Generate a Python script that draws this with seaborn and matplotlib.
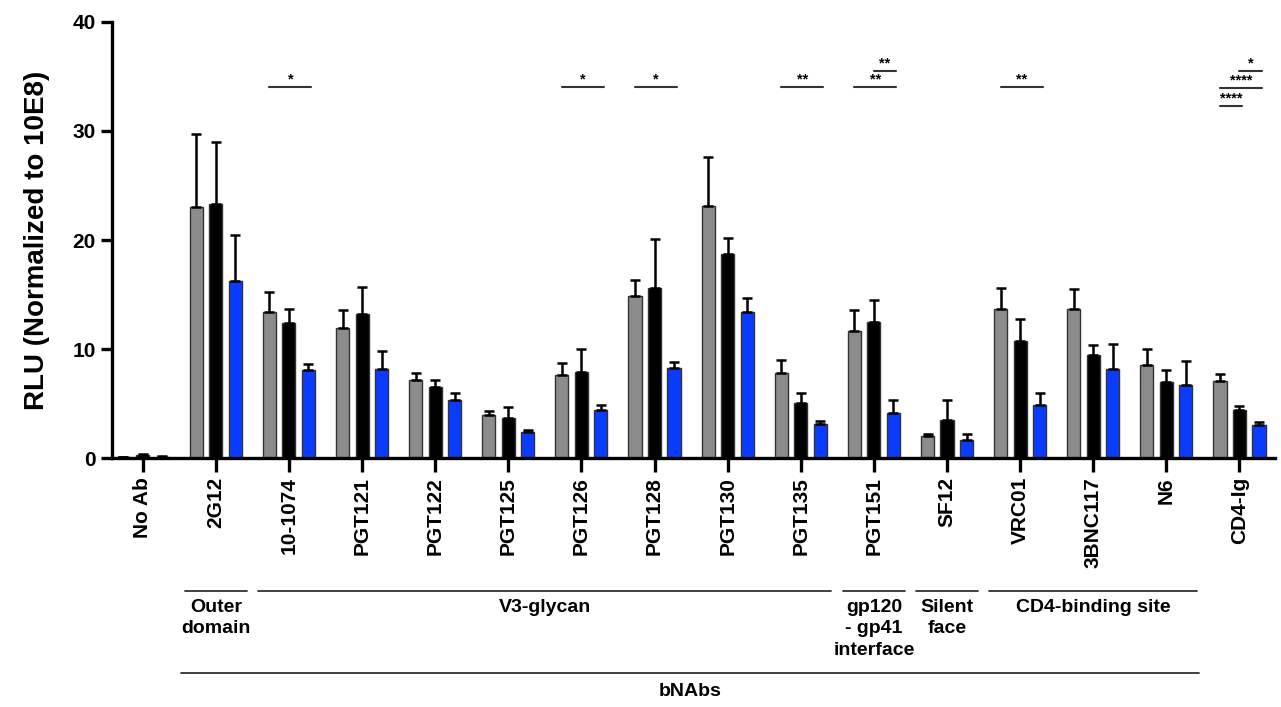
import numpy as np
import pandas as pd
import seaborn as sns
import matplotlib.pyplot as plt

antibodies = ["No Ab", "2G12", "10-1074", "PGT121", "PGT122", "PGT125", "PGT126",
              "PGT128", "PGT130", "PGT135", "PGT151", "SF12", "VRC01", "3BNC117",
              "N6", "CD4-Ig"]
conditions = ["cond1", "cond2", "cond3"]
colors = ["#8c8c8c", "#000000", "#0a3cff"]

gray_mean = [0.15, 23.0, 13.4, 11.9, 7.2, 4.0, 7.6, 14.9, 23.1, 7.8, 11.7, 2.0, 13.7, 13.7, 8.5, 7.1]
gray_top = [0.15, 29.7, 15.2, 13.6, 7.8, 4.3, 8.7, 16.3, 27.6, 9.0, 13.6, 2.2, 15.6, 15.5, 10.0, 7.7]
black_mean = [0.25, 23.3, 12.4, 13.2, 6.5, 3.7, 7.9, 15.6, 18.7, 5.1, 12.5, 3.5, 10.7, 9.5, 7.0, 4.4]
black_top = [0.4, 29.0, 13.7, 15.7, 7.2, 4.7, 10.0, 20.1, 20.2, 6.0, 14.5, 5.3, 12.8, 10.4, 8.1, 4.8]
blue_mean = [0.15, 16.2, 8.1, 8.2, 5.3, 2.4, 4.4, 8.3, 13.4, 3.1, 4.1, 1.7, 4.9, 8.2, 6.7, 3.0]
blue_top = [0.2, 20.5, 8.6, 9.8, 6.0, 2.6, 4.9, 8.8, 14.7, 3.4, 5.3, 2.2, 6.0, 10.5, 8.9, 3.3]

# (antibody, from bar, to bar, height, label)
sig = [("10-1074", 0, 2, 34.0, "*"), ("PGT126", 0, 2, 34.0, "*"),
       ("PGT128", 0, 2, 34.0, "*"), ("PGT135", 0, 2, 34.0, "**"),
       ("PGT151", 0, 2, 34.0, "**"), ("PGT151", 1, 2, 35.5, "**"),
       ("VRC01", 0, 2, 34.0, "**"), ("CD4-Ig", 1, 2, 35.5, "*"),
       ("CD4-Ig", 0, 2, 33.9, "****"), ("CD4-Ig", 0, 1, 32.3, "****")]

# (label, first antibody, last antibody)
groups = [("Outer\ndomain", "2G12", "2G12"), ("V3-glycan", "10-1074", "PGT135"),
          ("gp120\n- gp41\ninterface", "PGT151", "PGT151"),
          ("Silent\nface", "SF12", "SF12"), ("CD4-binding site", "VRC01", "N6")]
super_group = ("bNAbs", "2G12", "N6")

means = [gray_mean, black_mean, blue_mean]
tops = [gray_top, black_top, blue_top]
df = pd.DataFrame({
    "antibody": antibodies * 3,
    "condition": np.repeat(conditions, len(antibodies)),
    "rlu": np.concatenate(means),
})

sns.set_style("ticks")
plt.rcParams["font.family"] = ["Liberation Sans", "DejaVu Sans"]
plt.rcParams["font.weight"] = "bold"
plt.rcParams["text.color"] = "black"
plt.rcParams["axes.labelcolor"] = "black"
plt.rcParams["xtick.color"] = "black"
plt.rcParams["ytick.color"] = "black"
plt.rcParams["axes.edgecolor"] = "black"

fig = plt.figure(figsize=(12.81, 7.07), dpi=100)
ax = fig.add_axes([0.0874, 0.352, 0.9076, 0.617])

sns.barplot(data=df, x="antibody", y="rlu", hue="condition", order=antibodies,
            hue_order=conditions, palette=colors, saturation=1, gap=0.33,
            edgecolor="#333333", linewidth=1, legend=False, errorbar=None, ax=ax)

centers = []
for cont, m, t in zip(ax.containers, means, tops):
    xs = [b.get_x() + b.get_width() / 2 for b in cont]
    centers.append(xs)
    err = np.array(t) - np.array(m)
    ax.errorbar(xs, m, yerr=[np.zeros(len(m)), err], fmt="none", ecolor="black",
                elinewidth=1.8, capsize=3.5, capthick=1.8, zorder=1)

for name, a, b, y, txt in sig:
    i = antibodies.index(name)
    x0, x1 = centers[a][i], centers[b][i] + 0.04
    ax.plot([x0, x1], [y, y], color="#333333", lw=1.5)
    ax.text((x0 + x1) / 2, y + 0.05, txt, ha="center", va="bottom", fontsize=10.5)

ax.set_ylim(0, 40)
ax.set_xlim(-0.42, 15.48)
ax.set_yticks([0, 10, 20, 30, 40])
ax.set_xlabel("")
ax.set_ylabel("RLU (Normalized to 10E8)", fontsize=20, fontweight="bold", labelpad=16)
ax.tick_params(axis="both", labelsize=15, width=2.4, length=8)
ax.tick_params(axis="x", rotation=90, length=10)
for lab in ax.get_xticklabels() + ax.get_yticklabels():
    lab.set_fontweight("bold")
sns.despine(ax=ax)
for s in ["left", "bottom"]:
    ax.spines[s].set_linewidth(2.4)

trans = ax.get_xaxis_transform()
pad = 0.42
for label, first, last in groups:
    x0 = antibodies.index(first) - pad
    x1 = antibodies.index(last) + pad
    ax.plot([x0, x1], [-0.305, -0.305], color="#333333", lw=1.3,
            transform=trans, clip_on=False)
    ax.text((x0 + x1) / 2, -0.322, label, ha="center", va="top", fontsize=14,
            fontweight="bold", linespacing=1.35, transform=trans)

label, first, last = super_group
x0 = antibodies.index(first) - 0.48
x1 = antibodies.index(last) + 0.45
ax.plot([x0, x1], [-0.493, -0.493], color="#333333", lw=1.3,
        transform=trans, clip_on=False)
ax.text((x0 + x1) / 2, -0.515, label, ha="center", va="top", fontsize=14,
        fontweight="bold", transform=trans)

fig.savefig("out.png", dpi=100)
